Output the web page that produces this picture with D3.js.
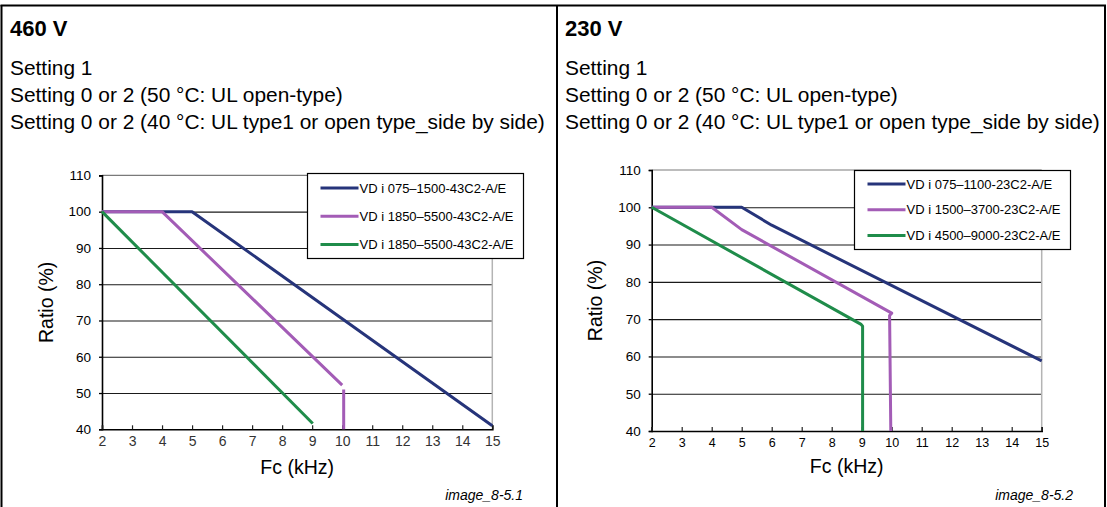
<!DOCTYPE html>
<html>
<head>
<meta charset="utf-8">
<script src="https://cdn.jsdelivr.net/npm/d3@7/dist/d3.min.js"></script>
<style>
  html, body { margin: 0; padding: 0; background: #fff; }
  svg { display: block; }
  text { font-family: Arial, "Liberation Sans", sans-serif; }
</style>
</head>
<body>
<svg id="chart" width="1107" height="507"></svg>
<script>
// Carrier-frequency derating curves (ratio in % vs. Fc in kHz)
const fcTicks = [2, 3, 4, 5, 6, 7, 8, 9, 10, 11, 12, 13, 14, 15];
const ratioTicks = [40, 50, 60, 70, 80, 90, 100, 110];
const gridValues = [50, 60, 70, 80, 90, 100];

const headerLines = [
  "Setting 1",
  "Setting 0 or 2 (50 °C: UL open-type)",
  "Setting 0 or 2 (40 °C: UL type1 or open type_side by side)"
];

// 460 V class
const v460Title = "460 V";
const v460Names = ["VD i 075–1500-43C2-A/E", "VD i 1850–5500-43C2-A/E", "VD i 1850–5500-43C2-A/E"];
const v460Navy = [[2, 100], [5, 100], [10, 70.5], [15, 41]];
const v460Purple = [[2, 100], [4, 100], [10, 52.2], null, [10.05, 51], [10.05, 40]];
const v460Green = [[2, 100], [9.02, 41.6]];
const v460Caption = "image_8-5.1";

// 230 V class
const v230Title = "230 V";
const v230Names = ["VD i 075–1100-23C2-A/E", "VD i 1500–3700-23C2-A/E", "VD i 4500–9000-23C2-A/E"];
const v230Navy = [[2, 100], [5, 100], [6, 95.2], [15, 58.8]];
const v230Purple = [[2, 100], [4, 100], [5, 94], [10, 71.6], [9.93, 71], [9.97, 40]];
const v230Green = [[2, 100], [8.98, 68.6], [9.03, 68.1], [9.03, 40]];
const v230Caption = "image_8-5.2";

const seriesColors = ["#26347a", "#a35cb6", "#1f8c4a"];

const svg = d3.select("#chart");

// table frame
const frame = svg.append("g").attr("fill", "none").attr("stroke", "#000").attr("stroke-width", 2);
frame.append("line").attr("x1", 1.5).attr("x2", 1.5).attr("y1", 5).attr("y2", 507);
frame.append("line").attr("x1", 1105).attr("x2", 1105).attr("y1", 5).attr("y2", 507);
frame.append("line").attr("x1", 557).attr("x2", 557).attr("y1", 5).attr("y2", 507);
frame.append("line").attr("x1", 0.5).attr("x2", 1106).attr("y1", 5.5).attr("y2", 5.5);

function drawPanel(cfg) {
  const g = svg.append("g");

  // header block
  g.append("text").attr("x", cfg.left + 9).attr("y", 36)
    .attr("font-size", 22).attr("font-weight", "bold").text(cfg.title);
  g.selectAll("text.hdr").data(headerLines).join("text")
    .attr("class", "hdr")
    .attr("x", cfg.left + 9)
    .attr("y", (d, i) => 75 + i * 27)
    .attr("font-size", 20.9)
    .text(d => d);

  const x = d3.scaleLinear().domain([2, 15]).range(cfg.xRange);
  const y = d3.scaleLinear().domain([40, 110]).range(cfg.yRange);
  const [x0, x1] = cfg.xRange;
  const [yb, yt] = cfg.yRange;

  // horizontal grid
  g.append("g")
    .attr("transform", `translate(${x0},0)`)
    .call(d3.axisLeft(y).tickValues(gridValues).tickSize(-(x1 - x0)).tickFormat(""))
    .call(a => a.select(".domain").remove())
    .call(a => a.selectAll("line").attr("stroke", "#1a1a1a").attr("stroke-width", 1.1));

  // top and right edge of the plot area
  g.append("line").attr("x1", x0).attr("x2", x1).attr("y1", y(110)).attr("y2", y(110))
    .attr("stroke", "#7a7a7a").attr("stroke-width", 1.2);
  g.append("line").attr("x1", x1).attr("x2", x1).attr("y1", y(110)).attr("y2", y(40))
    .attr("stroke", "#b4b4b4").attr("stroke-width", 1.5);

  // y axis
  g.append("g")
    .attr("transform", `translate(${x0},0)`)
    .call(d3.axisLeft(y).tickValues(ratioTicks).tickSize(3).tickPadding(8))
    .call(a => a.select(".domain").attr("stroke", "#000").attr("stroke-width", 1.6))
    .call(a => a.selectAll(".tick line").attr("stroke", "#000").attr("stroke-width", 1.3))
    .call(a => a.selectAll("text").attr("font-family", "Arial, 'Liberation Sans', sans-serif")
      .attr("font-size", 13.5).attr("fill", "#000"));

  // x axis (ticks point into the plot)
  g.append("g")
    .attr("transform", `translate(0,${yb})`)
    .call(d3.axisBottom(x).tickValues(fcTicks).tickSize(-4).tickPadding(cfg.xPad))
    .call(a => a.select(".domain").attr("stroke", "#000").attr("stroke-width", 1.6))
    .call(a => a.selectAll(".tick line").attr("stroke", "#222").attr("stroke-width", 1.2))
    .call(a => a.selectAll("text").attr("font-family", cfg.xFont)
      .attr("font-size", cfg.xFontSize).attr("fill", cfg.xFill));

  // curves
  const line = d3.line().defined(d => d).x(d => x(d[0])).y(d => y(d[1]));
  g.selectAll("path.curve").data(cfg.series).join("path")
    .attr("class", "curve")
    .attr("fill", "none")
    .attr("stroke", (d, i) => seriesColors[i])
    .attr("stroke-width", 3)
    .attr("stroke-linejoin", "round")
    .attr("d", d => line(d));

  // axis titles
  g.append("text")
    .attr("transform", `translate(${cfg.ratioX},${(yb + yt) / 2}) rotate(-90)`)
    .attr("text-anchor", "middle").attr("font-size", 19.5).text("Ratio (%)");
  g.append("text")
    .attr("x", (x0 + x1) / 2).attr("y", cfg.fcY)
    .attr("text-anchor", "middle").attr("font-size", 19.5).text("Fc (kHz)");

  // legend
  const lg = g.append("g");
  lg.append("rect")
    .attr("x", cfg.legend.x).attr("y", cfg.legend.y)
    .attr("width", cfg.legend.w).attr("height", cfg.legend.h)
    .attr("fill", "#fff").attr("stroke", "#000").attr("stroke-width", 1.2);
  const rows = lg.selectAll("g.row").data(cfg.names).join("g")
    .attr("class", "row")
    .attr("transform", (d, i) => `translate(${cfg.legend.x},${cfg.legend.y + cfg.legend.first + i * cfg.legend.step})`);
  rows.append("line").attr("x1", 13).attr("x2", 51).attr("y1", 0).attr("y2", 0)
    .attr("stroke", (d, i) => seriesColors[i]).attr("stroke-width", 3);
  rows.append("text").attr("x", 52).attr("y", 4.5).attr("font-size", 13).text(d => d);

  // figure caption
  g.append("text")
    .attr("x", cfg.captionX).attr("y", 500)
    .attr("text-anchor", "end").attr("font-size", 14).attr("font-style", "italic")
    .text(cfg.caption);
}

drawPanel({
  left: 1, title: v460Title, names: v460Names,
  series: [v460Navy, v460Purple, v460Green],
  xRange: [102, 492.3], yRange: [429.3, 175.4],
  xFont: "'Liberation Serif', 'Times New Roman', serif", xFontSize: 14, xFill: "#333", xPad: 7,
  ratioX: 53, fcY: 474,
  legend: { x: 307.5, y: 173.5, w: 216, h: 85, first: 14.5, step: 28.3 },
  captionX: 523, caption: v460Caption
});

drawPanel({
  left: 556, title: v230Title, names: v230Names,
  series: [v230Navy, v230Purple, v230Green],
  xRange: [651.7, 1041.7], yRange: [431, 170],
  xFont: "Arial, 'Liberation Sans', sans-serif", xFontSize: 12.5, xFill: "#000", xPad: 7,
  ratioX: 602, fcY: 473,
  legend: { x: 854.5, y: 170.5, w: 216, h: 79, first: 13.5, step: 25.7 },
  captionX: 1073, caption: v230Caption
});
</script>
</body>
</html>
